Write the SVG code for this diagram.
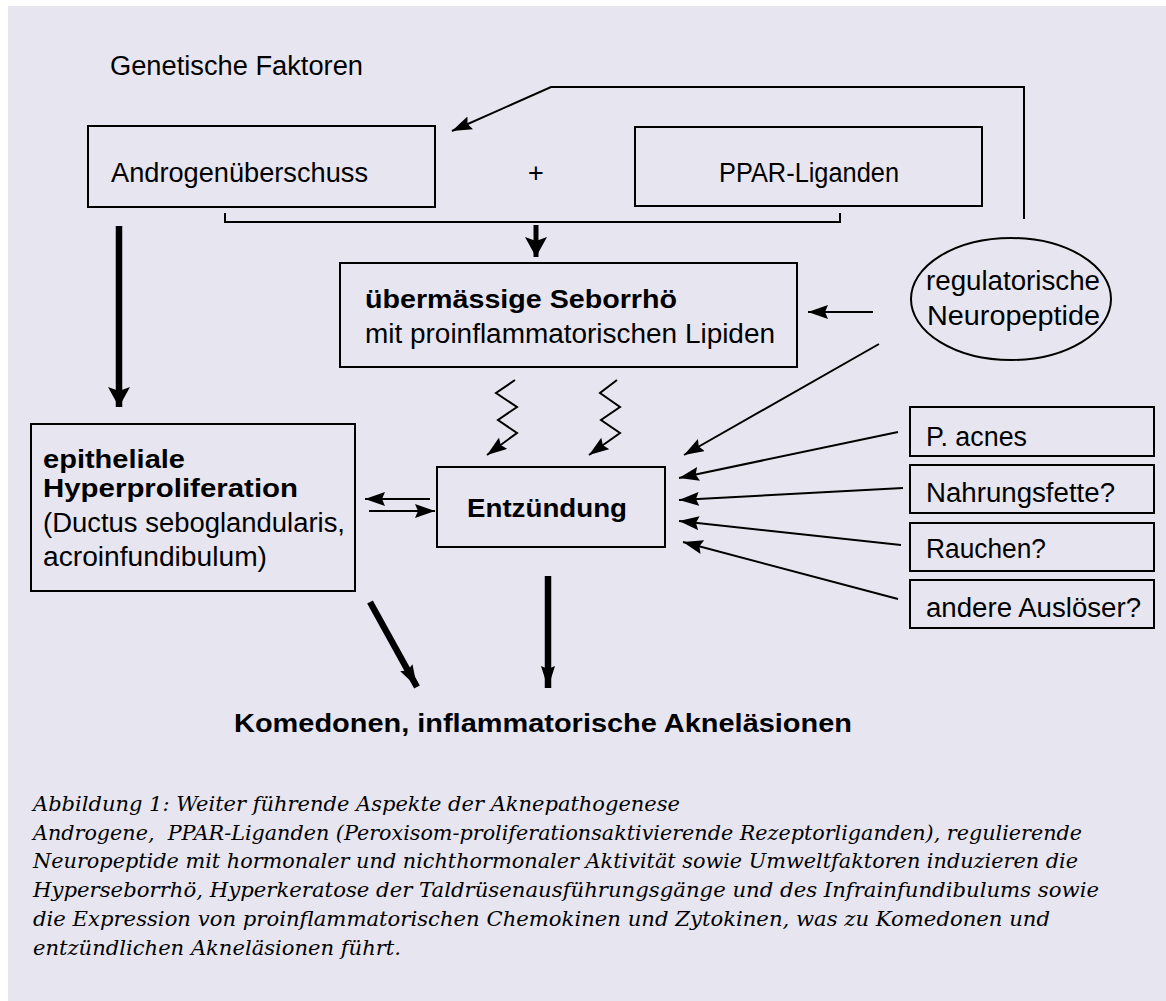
<svg xmlns="http://www.w3.org/2000/svg" width="1166" height="1001" viewBox="0 0 1166 1001">
<defs>
<style>
.bg{fill:#e7e6f0}
.box{fill:none;stroke:#000;stroke-width:2}
.t{font-family:"Liberation Sans",Arial,sans-serif;font-size:27px;fill:#000}
.b{font-family:"Liberation Sans",Arial,sans-serif;font-size:25px;font-weight:bold;fill:#000}
.cap{font-family:"DejaVu Serif",serif;font-style:italic;font-size:21px;fill:#000}
.ln{fill:none;stroke:#000;stroke-width:2}
.thick{fill:none;stroke:#000;stroke-width:5}
.thick7{fill:none;stroke:#000;stroke-width:6.5}
</style>
<marker id="ah" markerUnits="userSpaceOnUse" viewBox="0 0 20 14" markerWidth="20" markerHeight="14" refX="20" refY="7" orient="auto">
<path d="M0,0 L20,7 L0,14 L3,7 Z" fill="#000"/>
</marker>
<marker id="ahBig" markerUnits="userSpaceOnUse" viewBox="0 0 20 22" markerWidth="20" markerHeight="22" refX="20" refY="11" orient="auto">
<path d="M0,0 L20,11 L0,22 L4,11 Z" fill="#000"/>
</marker>
<marker id="ahNar" markerUnits="userSpaceOnUse" viewBox="0 0 22 14" markerWidth="22" markerHeight="14" refX="22" refY="7" orient="auto">
<path d="M0,0 L22,7 L0,14 L3,7 Z" fill="#000"/>
</marker>
</defs>
<rect class="bg" x="8" y="6" width="1158" height="995"/>

<g id="genetische">
<text class="t" x="110" y="75" textLength="253" lengthAdjust="spacingAndGlyphs">Genetische Faktoren</text>
</g>
<g id="androgen">
<rect class="box" x="88" y="126" width="347" height="81"/>
<text class="t" x="111" y="182" textLength="257" lengthAdjust="spacingAndGlyphs">Androgenüberschuss</text>
</g>
<g id="plus">
<text class="t" x="536" y="182" text-anchor="middle">+</text>
</g>
<g id="ppar">
<rect class="box" x="635" y="127" width="347" height="79"/>
<text class="t" x="719" y="182" textLength="180" lengthAdjust="spacingAndGlyphs">PPAR-Liganden</text>
</g>
<g id="seborrhoe">
<rect class="box" x="340" y="263" width="457" height="104"/>
<text class="b" x="365" y="308" textLength="312" lengthAdjust="spacingAndGlyphs">übermässige Seborrhö</text>
<text class="t" x="365" y="343" textLength="410" lengthAdjust="spacingAndGlyphs">mit proinflammatorischen Lipiden</text>
</g>
<g id="neuropeptide">
<ellipse class="box" cx="1011" cy="299" rx="100" ry="61"/>
<text class="t" x="926" y="290" textLength="174" lengthAdjust="spacingAndGlyphs">regulatorische</text>
<text class="t" x="927" y="325" textLength="173" lengthAdjust="spacingAndGlyphs">Neuropeptide</text>
</g>
<g id="epithel">
<rect class="box" x="31" y="424" width="324" height="167"/>
<text class="b" x="43" y="468" textLength="142" lengthAdjust="spacingAndGlyphs">epitheliale</text>
<text class="b" x="43" y="497" textLength="255" lengthAdjust="spacingAndGlyphs">Hyperproliferation</text>
<text class="t" x="43" y="532" textLength="302" lengthAdjust="spacingAndGlyphs">(Ductus seboglandularis,</text>
<text class="t" x="43" y="566" textLength="224" lengthAdjust="spacingAndGlyphs">acroinfundibulum)</text>
</g>
<g id="entzuendung">
<rect class="box" x="437" y="467" width="228" height="80"/>
<text class="b" x="467" y="517" textLength="160" lengthAdjust="spacingAndGlyphs">Entzündung</text>
</g>
<g id="pacnes">
<rect class="box" x="910" y="407" width="244" height="49"/>
<text class="t" x="926" y="446" textLength="101" lengthAdjust="spacingAndGlyphs">P. acnes</text>
</g>
<g id="nahrung">
<rect class="box" x="910" y="465" width="244" height="48"/>
<text class="t" x="926" y="502" textLength="189" lengthAdjust="spacingAndGlyphs">Nahrungsfette?</text>
</g>
<g id="rauchen">
<rect class="box" x="910" y="523" width="244" height="48"/>
<text class="t" x="926" y="558" textLength="120" lengthAdjust="spacingAndGlyphs">Rauchen?</text>
</g>
<g id="andere">
<rect class="box" x="910" y="580" width="244" height="48"/>
<text class="t" x="926" y="617" textLength="215" lengthAdjust="spacingAndGlyphs">andere Auslöser?</text>
</g>
<g id="komedonen">
<text class="b" x="234" y="732" textLength="618" lengthAdjust="spacingAndGlyphs">Komedonen, inflammatorische Akneläsionen</text>
</g>

<g id="connectors">
<path class="ln" d="M1024,219 V87 H551 L452,131" marker-end="url(#ah)"/>
<path class="ln" d="M225,213 V222 H840 V213"/>
<path class="thick" d="M536,225 V257" marker-end="url(#ahBig)"/>
<path class="thick7" d="M119,226 V407" marker-end="url(#ahBig)"/>
<path class="ln" d="M873,312 H808" marker-end="url(#ah)"/>
<path class="ln" d="M879,344 L684,455" marker-end="url(#ah)"/>
<path class="ln" d="M515,380 L496,393 L517,407 L498,420 L517,433 L487,455" marker-end="url(#ah)"/>
<path class="ln" d="M617,380 L600,393 L620,407 L601,420 L620,433 L589,455" marker-end="url(#ah)"/>
<path class="ln" d="M430,499 H365" marker-end="url(#ah)"/>
<path class="ln" d="M369,511 H435" marker-end="url(#ah)"/>
<path class="ln" d="M898,432 L679,478" marker-end="url(#ah)"/>
<path class="ln" d="M903,488 L679,500" marker-end="url(#ah)"/>
<path class="ln" d="M901,545 L679,521" marker-end="url(#ah)"/>
<path class="ln" d="M898,599 L683,542" marker-end="url(#ah)"/>
<path class="thick7" d="M370,602 L417,687" marker-end="url(#ahNar)"/>
<path class="thick7" d="M548,576 V688" marker-end="url(#ahNar)"/>
</g>

<g id="caption">
<text class="cap" x="33" y="811" textLength="647" lengthAdjust="spacingAndGlyphs">Abbildung 1: Weiter führende Aspekte der Aknepathogenese</text>
<text class="cap" x="33" y="840" textLength="1049" lengthAdjust="spacingAndGlyphs" xml:space="preserve">Androgene,  PPAR-Liganden (Peroxisom-proliferationsaktivierende Rezeptorliganden), regulierende</text>
<text class="cap" x="33" y="868" textLength="1045" lengthAdjust="spacingAndGlyphs">Neuropeptide mit hormonaler und nichthormonaler Aktivität sowie Umweltfaktoren induzieren die</text>
<text class="cap" x="33" y="897" textLength="1066" lengthAdjust="spacingAndGlyphs">Hyperseborrhö, Hyperkeratose der Taldrüsenausführungsgänge und des Infrainfundibulums sowie</text>
<text class="cap" x="33" y="926" textLength="1017" lengthAdjust="spacingAndGlyphs">die Expression von proinflammatorischen Chemokinen und Zytokinen, was zu Komedonen und</text>
<text class="cap" x="33" y="955" textLength="368" lengthAdjust="spacingAndGlyphs">entzündlichen Akneläsionen führt.</text>
</g>
</svg>
